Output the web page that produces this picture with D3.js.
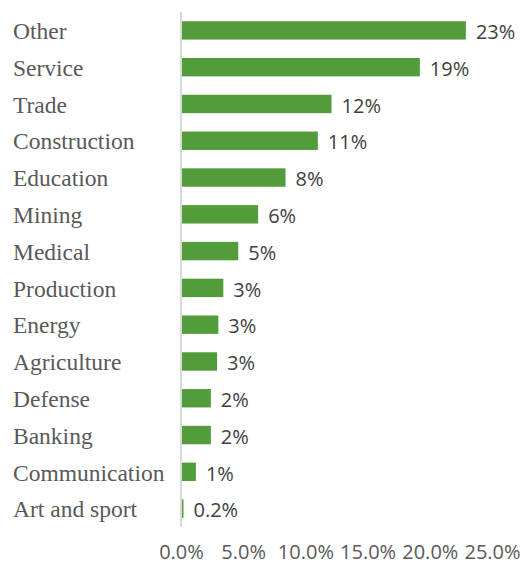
<!DOCTYPE html>
<html>
<head>
<meta charset="utf-8">
<script src="https://cdn.jsdelivr.net/npm/d3@7/dist/d3.min.js"></script>
<style>
  html, body { margin: 0; padding: 0; background: #ffffff; }
  svg { display: block; }
  .cat { font-family: "Liberation Serif", "Tinos", "Times New Roman", "DejaVu Serif", serif; }
  .num { font-family: "Open Sans", "Noto Sans", sans-serif; }
</style>
</head>
<body>
<svg id="chart" width="524" height="565"></svg>
<script>
// Share of employment by sector (percent)
const categories = ["Other", "Service", "Trade", "Construction", "Education", "Mining", "Medical",
  "Production", "Energy", "Agriculture", "Defense", "Banking", "Communication", "Art and sport"];
const shares = [22.9, 19.2, 12.1, 11.0, 8.4, 6.2, 4.6, 3.4, 3.0, 2.9, 2.4, 2.4, 1.2, 0.2];
const tickValues = [0, 5, 10, 15, 20, 25];

const svg = d3.select("#chart");
const x0 = 181, xPerUnit = 12.44;
const x = d3.scaleLinear().domain([0, 25]).range([x0, x0 + 25 * xPerUnit]);
const y = d3.scaleBand().domain(categories).range([12, 527]).paddingInner(0.5).paddingOuter(0.25);

const valueFmt = v => v < 1 ? d3.format(".1f")(v) + "%" : d3.format(".0f")(v) + "%";

// bars
svg.append("g").selectAll("rect").data(categories).join("rect")
  .attr("x", x(0))
  .attr("y", d => y(d))
  .attr("width", (d, i) => x(shares[i]) - x(0))
  .attr("height", y.bandwidth())
  .attr("fill", "#539c3b");

// vertical category axis line
svg.append("line")
  .attr("x1", x0).attr("x2", x0)
  .attr("y1", 12).attr("y2", 527)
  .attr("stroke", "#d9d9d9").attr("stroke-width", 2);

// category labels
svg.append("g").selectAll("text").data(categories).join("text")
  .attr("class", "cat")
  .attr("x", 13)
  .attr("y", d => y(d) + y.bandwidth() - 0.5)
  .attr("font-size", 23.5)
  .attr("fill", "#595959")
  .text(d => d);

// value labels
svg.append("g").selectAll("text").data(categories).join("text")
  .attr("class", "num")
  .attr("x", (d, i) => x(shares[i]) + 10)
  .attr("y", d => y(d) + y.bandwidth() - 0.5)
  .attr("font-size", 20)
  .attr("fill", "#404040")
  .text((d, i) => valueFmt(shares[i]));

// bottom value axis (labels only)
const xAxis = d3.axisBottom(x).tickValues(tickValues).tickSize(0).tickPadding(0)
  .tickFormat(d => d3.format(".1f")(d) + "%");
svg.append("g")
  .attr("transform", "translate(0,559)")
  .call(xAxis)
  .call(g => g.select(".domain").remove())
  .call(g => g.selectAll("text")
    .attr("class", "num")
    .attr("font-family", null)
    .attr("font-size", 20)
    .attr("fill", "#595959")
    .attr("dy", 0));
</script>
</body>
</html>
